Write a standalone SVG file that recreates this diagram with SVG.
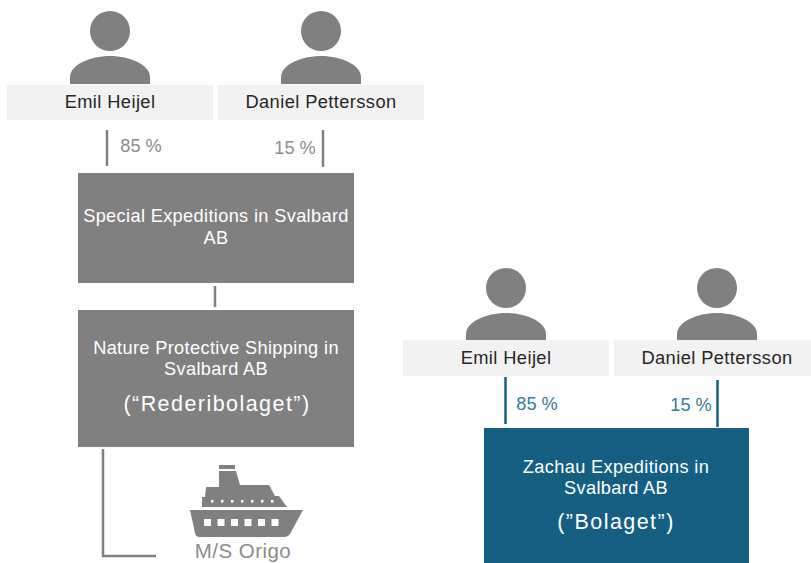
<svg xmlns="http://www.w3.org/2000/svg" width="811" height="563" viewBox="0 0 811 563">
<defs>
<style>
text{font-family:"Liberation Sans",Arial,sans-serif;text-anchor:middle}
.nm{font-size:18.300px;fill:#262626;letter-spacing:.4px}
.wt{font-size:18.200px;fill:#fff;letter-spacing:.35px}
.big{font-size:21.500px;fill:#fff;letter-spacing:1.45px}
.pg{font-size:18.200px;fill:#8c8c8c}
.pb{font-size:18.200px;fill:#3a7a9c}
.band{fill:#f2f2f2}
.g{fill:#808080}
.lg{stroke:#808080;stroke-width:2.5;fill:none}
.lb{stroke:#156082;stroke-width:2.5;fill:none}
</style>
<g id="person"><circle cx="0" cy="31" r="20" class="g"/><path class="g" d="M-40 84V77C-40 65-20 56 0 56S40 65 40 77V84Z"/></g>
</defs>
<g id="connectors">
<path class="lg" d="M107 130V166"/>
<path class="lg" d="M323 130V167"/>
<path class="lg" d="M215 286V307"/>
<path class="lg" d="M103 449V556H156"/>
<path class="lb" d="M505.500 377V424"/>
<path class="lb" d="M717.500 380V427"/>
</g>
<g id="person-emil-1"><use href="#person" x="110"/><rect class="band" x="7" y="85" width="206" height="35"/><text class="nm" x="110" y="108">Emil Heijel</text></g>
<g id="person-daniel-1"><use href="#person" x="321"/><rect class="band" x="218" y="85" width="206" height="35"/><text class="nm" x="321" y="108">Daniel Pettersson</text></g>
<g id="pct-1"><text class="pg" x="141" y="152">85 %</text><text class="pg" x="295" y="154">15 %</text></g>
<g id="sei"><rect class="g" x="78" y="173" width="276" height="110"/><text class="wt" x="216" y="222">Special Expeditions in Svalbard<tspan x="216" dy="22">AB</tspan></text></g>
<g id="npss"><rect class="g" x="78" y="310" width="276" height="137"/><text class="wt" x="216" y="354">Nature Protective Shipping in<tspan x="216" dy="21">Svalbard AB</tspan></text><text class="big" x="217" y="411">(“Rederibolaget”)</text></g>
<g id="origo">
<path class="g" d="M219 465H235V469H219ZM219 471H236L240 485H269L275 496H279L287 507H202V497H205L206 487H219Z"/>
<path class="g" d="M190 510H303L290 534Q288 537 285 537H199Q196 537 195 533Z"/>
<g fill="#fff"><rect x="204" y="519" width="7" height="7"/><rect x="217.500" y="519" width="7" height="7"/><rect x="231" y="519" width="7" height="7"/><rect x="244.500" y="519" width="7" height="7"/><rect x="258" y="519" width="7" height="7"/><rect x="271.500" y="519" width="7" height="7"/>
<rect x="211" y="500" width="2.500" height="2.500"/><rect x="221" y="500" width="2.500" height="2.500"/><rect x="231" y="500" width="2.500" height="2.500"/><rect x="241" y="500" width="2.500" height="2.500"/><rect x="251" y="500" width="2.500" height="2.500"/><rect x="261" y="500" width="2.500" height="2.500"/><rect x="271" y="500" width="2.500" height="2.500"/></g>
<text x="243" y="558" style="font-size:20.500px;fill:#8c8c8c;letter-spacing:.45px">M/S Origo</text>
</g>
<g id="person-emil-2"><use href="#person" x="506" y="257"/><rect class="band" x="403" y="340" width="206" height="36"/><text class="nm" x="506" y="364">Emil Heijel</text></g>
<g id="person-daniel-2"><use href="#person" x="717" y="257"/><rect class="band" x="614" y="340" width="197" height="36"/><text class="nm" x="717" y="364">Daniel Pettersson</text></g>
<g id="pct-2"><text class="pb" x="537" y="410">85 %</text><text class="pb" x="691" y="411">15 %</text></g>
<g id="bolaget"><rect x="484" y="428" width="265" height="135" fill="#156082"/><text class="wt" x="616" y="473">Zachau Expeditions in<tspan x="616" dy="21">Svalbard AB</tspan></text><text class="big" x="616" y="529">(”Bolaget”)</text></g>
</svg>
